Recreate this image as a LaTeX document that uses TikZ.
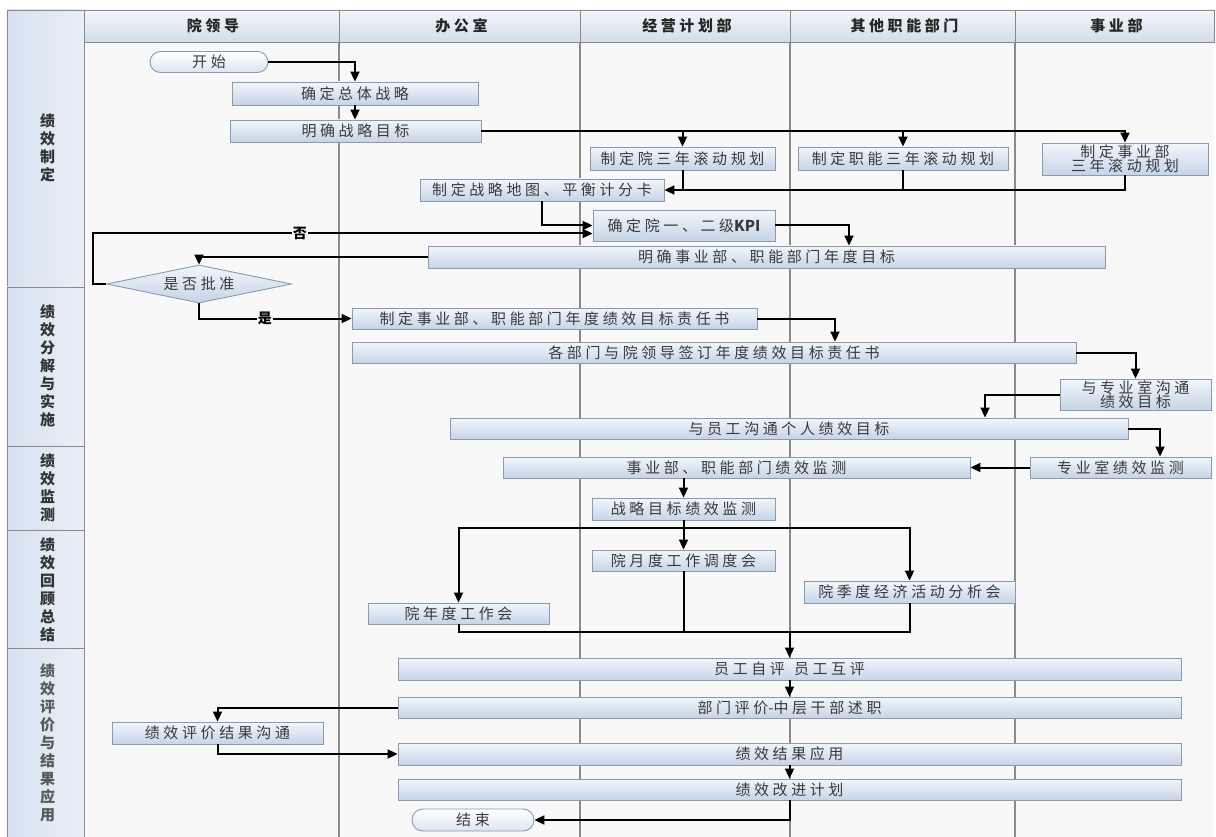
\documentclass[tikz,border=0pt]{standalone}
\usepackage{fontspec}
\setmainfont{Noto Sans CJK SC}[LetterSpace=24]
\usetikzlibrary{arrows.meta,shapes.geometric,shapes.misc}

\definecolor{lanebg}{HTML}{F8F8F8}
\definecolor{gridline}{HTML}{8A8A8A}
\definecolor{boxtop}{HTML}{F2F6FB}
\definecolor{boxbot}{HTML}{C6D4E7}
\definecolor{boxedge}{HTML}{8C9AAD}
\definecolor{txt}{HTML}{3A3A3A}
\definecolor{headtop}{HTML}{F3F6FA}
\definecolor{headbot}{HTML}{D2DDEB}
\definecolor{phaseA}{HTML}{D7E1EF}
\definecolor{phaseB}{HTML}{E9EFF7}

\tikzset{
  procbox/.style={draw=boxedge, line width=0.9pt, top color=boxtop, bottom color=boxbot,
    text=txt, font=\fontsize{15}{17}\selectfont, inner sep=0pt, align=center},
  termbox/.style={rounded rectangle, draw=boxedge, line width=0.9pt, top color=white,
    bottom color=boxtop!50!boxbot, text=txt, font=\fontsize{15}{17}\selectfont, inner sep=0pt},
  decision/.style={diamond, draw=boxedge, line width=0.9pt, top color=boxtop, bottom color=boxbot,
    text=txt, font=\fontsize{15}{17}\selectfont, inner sep=0pt, aspect=4.87},
  flow/.style={draw=black, line width=2pt, -{Triangle[length=10pt,width=9pt]}},
  link/.style={draw=black, line width=2pt},
  lanehead/.style={font=\bfseries\fontsize{15}{17}\selectfont, text=black!85},
  phaselabel/.style={font=\bfseries\fontsize{15}{18}\selectfont, text=black!80, align=center},
  branchlabel/.style={fill=lanebg, inner sep=1pt, font=\bfseries\fontsize{14}{15}\selectfont, text=black}
}

\newcommand\procnode[6]{\node[procbox, minimum width=#4pt, minimum height=#5pt] (#1) at (#2,#3) {#6};}
\newcommand\tight[1]{{\addfontfeature{LetterSpace=0}#1}}

\begin{document}
\begin{tikzpicture}[x=1pt,y=-1pt]
\useasboundingbox (0,0) rectangle (1216,837);
\fill[white] (0,0) rectangle (1216,837);

% lane area
\fill[lanebg] (84,42) rectangle (1214,837);

% header cells
\foreach \xa/\xb in {84/339,339/580,580/790,790/1015,1015/1214}
  \shade[top color=headtop, bottom color=headbot, draw=gridline, line width=0.9pt] (\xa,10) rectangle (\xb,42);
\node[lanehead] (h1) at (213,26) {院领导};
\node[lanehead] (h2) at (461.5,26) {办公室};
\node[lanehead] (h3) at (687,26) {经营计划部};
\node[lanehead] (h4) at (904.5,26) {其他职能部门};
\node[lanehead] (h5) at (1116.5,26) {事业部};

% lane dividers
\foreach \xx in {339,580,790,1015}
  \draw[gridline, line width=1.2pt] (\xx,42) -- (\xx,837);
\draw[gridline, line width=1.2pt] (84,10) -- (84,837);

% phase column
\foreach \ya/\yb in {10/287,287/446,446/530,530/648,648/837}
  \shade[left color=phaseA, right color=phaseB, draw=gridline, line width=0.9pt] (7,\ya) rectangle (84,\yb);
\node[phaselabel] (p1) at (47.5,148) {绩\\效\\制\\定};
\node[phaselabel] (p2) at (47.5,366) {绩\\效\\分\\解\\与\\实\\施};
\node[phaselabel] (p3) at (47.5,488) {绩\\效\\监\\测};
\node[phaselabel] (p4) at (47.5,590) {绩\\效\\回\\顾\\总\\结};
\node[phaselabel, text=black!65] (p5) at (47.5,743) {绩\\效\\评\\价\\与\\结\\果\\应\\用};

% process steps
\node[termbox, minimum width=118pt, minimum height=21pt] (start) at (209,62) {开始};
\procnode{n1}{355}{93.5}{246}{23}{确定总体战略}
\procnode{n2}{355.5}{131}{251}{22}{明确战略目标}
\procnode{n3}{682.5}{158.5}{185}{23}{制定院三年滚动规划}
\procnode{n4}{903}{158.5}{210}{23}{制定职能三年滚动规划}
\procnode{n5}{1125}{159}{166}{32}{制定事业部\\[-3pt]三年滚动规划}
\procnode{n6}{542}{190}{244}{22}{制定战略地图、平衡计分卡}
\procnode{n7}{684}{225.5}{182}{31}{确定院一、二级\tight{\bfseries KPI}}
\procnode{n8}{766.5}{257}{677}{22}{明确事业部、职能部门年度目标}
\node[decision, minimum width=185pt, minimum height=38pt] (d) at (199,284) {是否批准};
\procnode{n9}{554.5}{318.5}{405}{21}{制定事业部、职能部门年度绩效目标责任书}
\procnode{n10}{714}{352.5}{724}{21}{各部门与院领导签订年度绩效目标责任书}
\procnode{n11}{1135.5}{394.5}{151}{31}{与专业室沟通\\[-3pt]绩效目标}
\procnode{n12}{789}{428.5}{678}{21}{与员工沟通个人绩效目标}
\procnode{n13}{1120.5}{467.5}{181}{21}{专业室绩效监测}
\procnode{n14}{736.5}{467.5}{467}{21}{事业部、职能部门绩效监测}
\procnode{n15}{683.5}{509}{183}{22}{战略目标绩效监测}
\procnode{n16}{683.5}{560.5}{183}{21}{院月度工作调度会}
\procnode{n17}{909.5}{592}{211}{22}{院季度经济活动分析会}
\procnode{n18}{458.5}{613.5}{181}{21}{院年度工作会}
\procnode{n19}{789.5}{669}{783}{22}{员工自评\hspace{0.6em}员工互评}
\procnode{n20}{789.5}{707.5}{783}{21}{部门评价\tight{-}中层干部述职}
\procnode{n21}{217.5}{733}{211}{22}{绩效评价结果沟通}
\procnode{n22}{789.5}{754}{783}{22}{绩效结果应用}
\procnode{n23}{789.5}{789.5}{783}{21}{绩效改进计划}
\node[termbox, minimum width=122pt, minimum height=22pt] (end) at (473,820) {结束};

% connectors
\draw[flow] (start.east) -| (n1.north);
\draw[flow] (n1.south) -- (n1.south |- n2.north);
\draw[flow] (n2.east) -| (n5.north);
\draw[flow] (n3.north |- n2.east) -- (n3.north);
\draw[flow] (n4.north |- n2.east) -- (n4.north);
\draw[flow] (n5.south) |- (n6.east);
\draw[link] (n3.south) -- (n3.south |- n6.east);
\draw[link] (n4.south) -- (n4.south |- n6.east);
\draw[flow] (n6.south) |- (n7.west);
\coordinate (noleft) at (93,284);
\draw[flow] (d.west) -- (noleft) |- ([yshift=-8pt]n7.west) node[branchlabel, pos=0.707] {否};
\draw[flow] (n7.east) -| ([xshift=82.5pt]n8.north);
\draw[flow] (n8.west) -| (d.north);
\draw[flow] (d.south) |- (n9.west) node[branchlabel, pos=0.716] {是};
\draw[flow] (n9.east) -| ([xshift=121pt]n10.north);
\draw[flow] (n10.east) -| (n11.north);
\draw[flow] (n11.west) -| ([xshift=196pt]n12.north);
\draw[flow] (n12.east) -| ([xshift=39.5pt]n13.north);
\draw[flow] (n13.west) -- (n14.east);
\draw[flow] (n15.north |- n14.south) -- (n15.north);
\draw[flow] (n15.south) -- (n16.north);
\draw[flow] (n15.south) -- ++(0,8) -| (n18.north);
\draw[flow] (n15.south) -- ++(0,8) -| (n17.north);
\coordinate (join) at ([yshift=26pt]n19.north);
\draw[link] (n18.south) |- (join);
\draw[link] (n17.south) |- (join);
\draw[link] (n16.south) -- (n16.south |- join);
\draw[flow] (join) -- (n19.north);
\draw[flow] (n19.south) -- (n20.north);
\draw[flow] (n20.west) -| (n21.north);
\draw[flow] (n21.south) |- (n22.west);
\draw[flow] (n22.south) -- (n23.north);
\draw[flow] (n23.south) |- (end.east);
\end{tikzpicture}
\end{document}
